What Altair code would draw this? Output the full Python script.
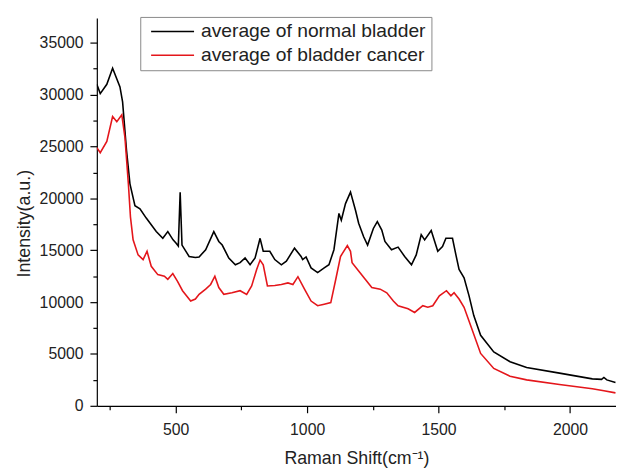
import altair as alt
import pandas as pd

# ---- data ----
normal_shift = [200, 213, 238, 260, 288, 298, 313, 326, 345, 364, 388, 426, 451, 470, 490, 501, 510, 517, 524,
                551, 575, 589, 614, 645, 664, 677, 702, 727, 745, 764, 783, 802, 821, 833, 858, 877, 902, 921,
                952, 977, 983, 996, 1015, 1040, 1065, 1083, 1102, 1121, 1130, 1146, 1165, 1184, 1196, 1215,
                1230, 1252, 1267, 1284, 1296, 1321, 1346, 1371, 1397, 1415, 1434, 1447, 1472, 1497, 1515,
                1528, 1553, 1566, 1578, 1597, 1616, 1634, 1660, 1710, 1772, 1835, 1960, 2085, 2120, 2129,
                2140, 2173]
normal_intensity = [31000, 30100, 31000, 32550, 30750, 29300, 24600, 21400, 19300, 19000, 18100, 16800, 16150,
                    16800, 16000, 15700, 15400, 20600, 15500, 14400, 14300, 14350, 15050, 16800, 15850, 15500,
                    14250, 13600, 13800, 14250, 13600, 14250, 16150, 14900, 14900, 14100, 13600, 13950, 15200,
                    14400, 14100, 14350, 13300, 12850, 13300, 13600, 15050, 18550, 17900, 19500, 20600, 18850,
                    17600, 16300, 15500, 17100, 17750, 16950, 15850, 15050, 15300, 14400, 13600, 14550, 16500,
                    16000, 16900, 14900, 15350, 16150, 16150, 14550, 13150, 12350, 10600, 8700, 6800, 5200,
                    4250, 3700, 3150, 2600, 2550, 2730, 2500, 2250]

cancer_shift = [200, 213, 238, 260, 276, 295, 307, 320, 328, 338, 357, 376, 391, 407, 432, 457, 470, 489, 507,
                526, 557, 575, 589, 614, 633, 649, 664, 683, 714, 745, 770, 789, 808, 821, 833, 849, 877, 902,
                927, 946, 965, 990, 1015, 1040, 1065, 1090, 1109, 1127, 1153, 1165, 1171, 1196, 1221, 1246,
                1278, 1303, 1328, 1346, 1384, 1409, 1440, 1459, 1478, 1503, 1530, 1547, 1559, 1578, 1597,
                1622, 1660, 1710, 1772, 1835, 1960, 2085, 2129, 2173]
cancer_intensity = [24900, 24400, 25500, 27900, 27400, 28050, 25850, 21400, 18200, 16000, 14550, 14100, 14900,
                    13450, 12650, 12500, 12200, 12750, 12000, 11100, 10100, 10300, 10750, 11250, 11700, 12500,
                    11400, 10750, 10900, 11100, 10750, 11550, 13150, 14050, 13600, 11550, 11600, 11700, 11850,
                    11700, 12450, 11250, 10100, 9650, 9800, 9950, 12200, 14400, 15450, 14900, 13800, 13000,
                    12200, 11400, 11250, 10900, 10100, 9650, 9350, 9000, 9650, 9500, 9650, 10600, 11100, 10600,
                    10900, 10300, 9500, 7750, 5050, 3600, 2850, 2500, 2050, 1650, 1450, 1250]

series_names = ["average of normal bladder", "average of bladder cancer"]
series_colors = ["#000000", "#e4161b"]
y_tick_values = list(range(0, 37500, 2500))
x_tick_values = list(range(250, 2251, 250))

df = pd.concat([
    pd.DataFrame({"shift": normal_shift, "intensity": normal_intensity, "series": series_names[0]}),
    pd.DataFrame({"shift": cancer_shift, "intensity": cancer_intensity, "series": series_names[1]}),
])

FONT = "Liberation Sans"
TXT = "#222222"

x_axis = alt.Axis(
    title="Raman Shift(cm⁻¹)", values=x_tick_values, format="d",
    labelExpr="datum.value % 500 === 0 ? datum.label : ''",
    tickSize=7,
    tickDash={"condition": {"test": "datum.value % 500 === 0", "value": [8, 0]}, "value": [4, 10]},
    grid=False, domainColor="#000", tickColor="#000", domainWidth=1.2, tickWidth=1.2,
    labelFont=FONT, labelFontSize=16, labelColor=TXT, labelPadding=9, labelFlush=False,
    titleFont=FONT, titleFontSize=18, titleFontWeight="normal", titleColor=TXT, titlePadding=12,
)
y_axis = alt.Axis(
    title="Intensity(a.u.)", values=y_tick_values, format="d",
    labelExpr="datum.value % 5000 === 0 ? datum.label : ''",
    tickSize=7,
    tickDash={"condition": {"test": "datum.value % 5000 === 0", "value": [8, 0]}, "value": [4, 10]},
    grid=False, domainColor="#000", tickColor="#000", domainWidth=1.2, tickWidth=1.2,
    labelFont=FONT, labelFontSize=16, labelColor=TXT, labelPadding=7,
    titleFont=FONT, titleFontSize=18, titleFontWeight="normal", titleColor=TXT, titlePadding=6,
    titleY=208,
)

legend = alt.Legend(
    title=None, orient="none", legendX=44, legendY=-1, direction="vertical",
    strokeColor="#888888", fillColor="#ffffff", padding=5,
    symbolType="M-2.9,0H2.9", symbolSize=225, symbolStrokeWidth=1.5,
    symbolOffset=18, labelOffset=19, rowPadding=3,
    labelFont=FONT, labelFontSize=19.5, labelColor=TXT, labelLimit=400,
)

chart = alt.Chart(df).mark_line(strokeWidth=1.6, clip=True).encode(
    x=alt.X("shift:Q", scale=alt.Scale(domain=[200, 2175], nice=False, zero=False), axis=x_axis),
    y=alt.Y("intensity:Q", scale=alt.Scale(domain=[0, 37400], nice=False, zero=True), axis=y_axis),
    color=alt.Color("series:N", scale=alt.Scale(domain=series_names, range=series_colors), legend=legend),
).properties(
    width=526, height=393,
    padding={"left": 90, "top": 7, "right": 0, "bottom": 64},
    autosize=alt.AutoSizeParams(type="none"),
    background="#ffffff",
).configure_view(stroke=None)

chart.save("out.html", embed_options={"renderer": "svg", "actions": False})
